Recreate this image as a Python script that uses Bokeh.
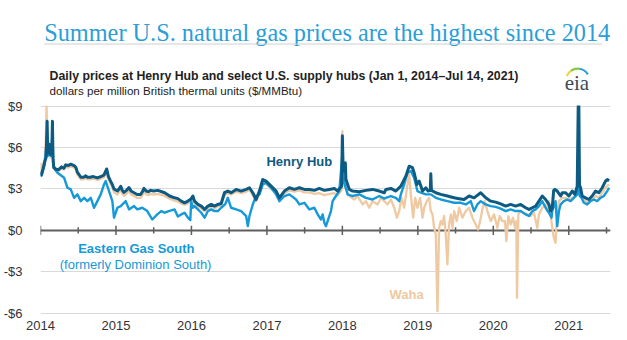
from bokeh.plotting import figure
from bokeh.layouts import column
from bokeh.models import Range1d, FixedTicker, Span, Label
from bokeh.core.properties import value
from bokeh.embed import file_html
from bokeh.resources import INLINE

# ---------------- data (decimal year, $/MMBtu) ----------------
henry_hub = [
    (2014.000, 4.30), (2014.013, 4.05), (2014.035, 4.50), (2014.057, 5.00), (2014.075, 5.30),
    (2014.088, 7.90), (2014.095, 5.60), (2014.115, 6.25), (2014.130, 5.50), (2014.150, 5.70),
    (2014.158, 7.90), (2014.166, 5.20), (2014.175, 4.55), (2014.200, 4.45), (2014.240, 4.40),
    (2014.280, 4.60), (2014.310, 4.50), (2014.335, 4.75), (2014.370, 4.70), (2014.400, 4.80),
    (2014.445, 4.70), (2014.470, 4.55), (2014.489, 4.20), (2014.510, 4.05), (2014.534, 3.85),
    (2014.570, 3.85), (2014.600, 3.95), (2014.622, 3.85), (2014.660, 3.85), (2014.700, 3.90),
    (2014.754, 3.80), (2014.798, 3.90), (2014.840, 4.00), (2014.877, 4.45), (2014.900, 3.90),
    (2014.930, 3.55), (2014.950, 3.35), (2014.974, 3.00), (2015.019, 2.85), (2015.040, 3.00),
    (2015.063, 3.20), (2015.085, 2.90), (2015.107, 2.75), (2015.140, 2.90), (2015.173, 3.10),
    (2015.200, 2.85), (2015.239, 2.73), (2015.280, 2.60), (2015.327, 2.60), (2015.350, 2.80),
    (2015.371, 3.04), (2015.400, 2.85), (2015.430, 2.80), (2015.459, 2.90), (2015.500, 2.85),
    (2015.556, 2.90), (2015.645, 2.73), (2015.711, 2.49), (2015.777, 2.36), (2015.820, 2.30),
    (2015.865, 2.12), (2015.909, 2.00), (2015.953, 2.12), (2015.997, 2.30), (2016.019, 2.49),
    (2016.041, 2.12), (2016.086, 1.88), (2016.130, 1.76), (2016.174, 1.52), (2016.218, 1.76),
    (2016.262, 1.88), (2016.306, 1.76), (2016.350, 1.88), (2016.394, 1.95), (2016.438, 2.73),
    (2016.482, 2.85), (2016.526, 2.73), (2016.593, 2.97), (2016.659, 2.85), (2016.725, 2.97),
    (2016.769, 3.09), (2016.813, 2.73), (2016.857, 2.24), (2016.901, 2.85), (2016.945, 3.69),
    (2016.989, 3.57), (2017.033, 3.33), (2017.056, 3.21), (2017.122, 2.85), (2017.166, 2.36),
    (2017.232, 2.85), (2017.298, 3.09), (2017.364, 2.97), (2017.430, 3.09), (2017.497, 2.97),
    (2017.563, 2.97), (2017.629, 2.90), (2017.695, 3.04), (2017.761, 2.90), (2017.827, 2.97),
    (2017.893, 3.04), (2017.937, 2.85), (2017.990, 3.20), (2018.000, 6.85), (2018.008, 5.00),
    (2018.018, 4.30), (2018.030, 4.50), (2018.039, 4.90), (2018.047, 3.70), (2018.092, 2.97),
    (2018.136, 2.85), (2018.224, 2.80), (2018.312, 2.90), (2018.400, 2.97), (2018.489, 2.85),
    (2018.555, 2.73), (2018.577, 2.97), (2018.643, 3.04), (2018.709, 2.85), (2018.775, 3.21),
    (2018.841, 3.93), (2018.885, 4.65), (2018.929, 4.54), (2018.951, 4.18), (2018.987, 3.33),
    (2019.018, 3.57), (2019.062, 2.85), (2019.106, 3.09), (2019.137, 2.85), (2019.165, 2.90),
    (2019.172, 4.10), (2019.180, 2.90), (2019.238, 2.73), (2019.304, 2.61), (2019.392, 2.49),
    (2019.481, 2.36), (2019.547, 2.30), (2019.613, 2.24), (2019.679, 2.49), (2019.745, 2.36),
    (2019.833, 2.73), (2019.899, 2.36), (2019.966, 2.12), (2020.032, 2.05), (2020.098, 1.92),
    (2020.164, 1.76), (2020.230, 1.88), (2020.296, 1.76), (2020.362, 1.88), (2020.429, 1.64),
    (2020.473, 1.52), (2020.517, 1.64), (2020.561, 1.76), (2020.605, 2.12), (2020.649, 2.49),
    (2020.693, 2.24), (2020.737, 1.88), (2020.759, 1.40), (2020.781, 1.64), (2020.800, 2.90),
    (2020.817, 2.97), (2020.847, 2.85), (2020.892, 2.49), (2020.914, 2.73), (2020.958, 2.73),
    (2021.002, 2.49), (2021.046, 2.85), (2021.081, 2.61), (2021.112, 3.21), (2021.125, 9.00),
    (2021.134, 9.00), (2021.142, 3.30), (2021.156, 3.09), (2021.178, 2.49), (2021.222, 2.36),
    (2021.266, 2.24), (2021.310, 2.49), (2021.354, 2.85), (2021.399, 2.73), (2021.443, 3.09),
    (2021.487, 3.57), (2021.510, 3.69), (2021.535, 3.60),
]

eastern_gas_south = [
    (2014.000, 4.20), (2014.013, 3.95), (2014.057, 4.80), (2014.088, 7.00), (2014.100, 5.40),
    (2014.115, 5.90), (2014.140, 5.40), (2014.158, 7.00), (2014.170, 4.80), (2014.200, 4.35),
    (2014.225, 4.18), (2014.313, 3.81), (2014.357, 3.09), (2014.401, 2.97), (2014.445, 2.36),
    (2014.489, 2.61), (2014.534, 2.12), (2014.578, 2.36), (2014.622, 2.12), (2014.666, 2.36),
    (2014.710, 1.64), (2014.754, 2.12), (2014.798, 2.61), (2014.842, 3.33), (2014.864, 3.57),
    (2014.908, 2.85), (2014.952, 2.12), (2014.974, 0.92), (2015.019, 1.64), (2015.063, 1.76),
    (2015.129, 2.12), (2015.173, 1.52), (2015.239, 1.76), (2015.283, 1.52), (2015.349, 1.64),
    (2015.415, 1.40), (2015.481, 0.79), (2015.548, 1.16), (2015.600, 1.40), (2015.645, 1.28),
    (2015.700, 1.40), (2015.777, 1.52), (2015.820, 1.00), (2015.865, 1.16), (2015.909, 1.28),
    (2015.953, 0.92), (2015.985, 0.75), (2015.997, 2.12), (2016.019, 1.64), (2016.041, 1.76),
    (2016.086, 1.52), (2016.130, 1.28), (2016.174, 0.92), (2016.218, 1.40), (2016.262, 1.52),
    (2016.306, 1.40), (2016.350, 1.40), (2016.394, 1.64), (2016.446, 1.88), (2016.482, 2.36),
    (2016.526, 1.64), (2016.593, 1.52), (2016.659, 1.40), (2016.725, 1.04), (2016.747, 0.31),
    (2016.769, 1.04), (2016.813, 1.88), (2016.857, 2.49), (2016.901, 2.60), (2016.945, 3.33),
    (2016.989, 3.45), (2017.033, 3.21), (2017.056, 3.09), (2017.122, 2.61), (2017.166, 2.12),
    (2017.232, 2.49), (2017.298, 2.61), (2017.386, 2.24), (2017.430, 1.88), (2017.497, 2.00),
    (2017.563, 1.52), (2017.629, 1.64), (2017.673, 1.16), (2017.717, 0.79), (2017.739, 1.16),
    (2017.761, 0.55), (2017.783, 0.31), (2017.805, 0.67), (2017.849, 1.40), (2017.871, 2.12),
    (2017.915, 2.49), (2017.959, 2.85), (2018.000, 5.50), (2018.020, 3.50), (2018.057, 2.85),
    (2018.070, 2.61), (2018.136, 2.49), (2018.224, 2.61), (2018.312, 2.36), (2018.400, 2.24),
    (2018.489, 2.49), (2018.555, 2.30), (2018.577, 2.36), (2018.643, 2.49), (2018.709, 2.36),
    (2018.753, 2.12), (2018.775, 2.61), (2018.819, 3.33), (2018.863, 4.18), (2018.907, 4.30),
    (2018.951, 3.81), (2018.995, 2.85), (2019.040, 2.73), (2019.106, 2.61), (2019.172, 2.61),
    (2019.238, 2.36), (2019.304, 2.24), (2019.392, 2.12), (2019.481, 2.00), (2019.569, 2.00),
    (2019.635, 1.88), (2019.701, 2.12), (2019.745, 1.40), (2019.789, 1.88), (2019.833, 2.12),
    (2019.899, 1.88), (2019.966, 1.76), (2020.032, 1.70), (2020.098, 1.58), (2020.164, 1.40),
    (2020.230, 1.52), (2020.296, 1.40), (2020.362, 1.40), (2020.429, 1.16), (2020.473, 1.04),
    (2020.517, 1.40), (2020.561, 1.52), (2020.605, 1.76), (2020.649, 2.12), (2020.693, 1.64),
    (2020.737, 1.28), (2020.772, 0.92), (2020.781, 1.40), (2020.825, 2.12), (2020.847, 0.31),
    (2020.870, 1.40), (2020.892, 1.88), (2020.936, 2.12), (2020.980, 2.24), (2021.024, 2.12),
    (2021.068, 2.36), (2021.112, 2.61), (2021.130, 5.00), (2021.145, 2.50), (2021.169, 2.36),
    (2021.200, 2.00), (2021.244, 1.88), (2021.288, 2.12), (2021.332, 2.24), (2021.376, 2.12),
    (2021.420, 2.36), (2021.465, 2.49), (2021.509, 2.85), (2021.535, 3.09),
]

waha = [
    (2014.000, 4.90), (2014.013, 4.30), (2014.035, 4.70), (2014.057, 5.30), (2014.070, 6.50),
    (2014.080, 9.00), (2014.092, 6.00), (2014.115, 6.00), (2014.130, 5.30), (2014.150, 5.50),
    (2014.158, 7.50), (2014.166, 5.00), (2014.175, 4.50), (2014.200, 4.35), (2014.240, 4.30),
    (2014.280, 4.50), (2014.310, 4.40), (2014.335, 4.60), (2014.370, 4.55), (2014.400, 4.65),
    (2014.445, 4.55), (2014.470, 4.40), (2014.489, 4.05), (2014.510, 3.90), (2014.534, 3.70),
    (2014.570, 3.70), (2014.600, 3.80), (2014.622, 3.70), (2014.660, 3.70), (2014.700, 3.75),
    (2014.754, 3.65), (2014.798, 3.75), (2014.840, 3.85), (2014.877, 4.20), (2014.900, 3.70),
    (2014.930, 3.35), (2014.950, 3.15), (2014.974, 2.75), (2015.019, 2.60), (2015.040, 2.75),
    (2015.063, 2.95), (2015.085, 2.65), (2015.107, 2.50), (2015.140, 2.65), (2015.173, 2.85),
    (2015.200, 2.60), (2015.239, 2.50), (2015.280, 2.35), (2015.327, 2.35), (2015.350, 2.55),
    (2015.371, 2.80), (2015.400, 2.60), (2015.430, 2.55), (2015.459, 2.65), (2015.500, 2.60),
    (2015.556, 2.65), (2015.645, 2.50), (2015.711, 2.30), (2015.777, 2.15), (2015.820, 2.10),
    (2015.865, 1.95), (2015.909, 1.85), (2015.953, 1.95), (2015.997, 2.15), (2016.019, 2.30),
    (2016.041, 1.95), (2016.086, 1.75), (2016.130, 1.60), (2016.174, 1.40), (2016.218, 1.60),
    (2016.262, 1.75), (2016.306, 1.60), (2016.350, 1.75), (2016.394, 1.80), (2016.438, 2.55),
    (2016.482, 2.70), (2016.526, 2.60), (2016.593, 2.80), (2016.659, 2.70), (2016.725, 2.80),
    (2016.769, 2.95), (2016.813, 2.55), (2016.857, 2.10), (2016.901, 2.70), (2016.945, 3.45),
    (2016.989, 3.35), (2017.033, 3.15), (2017.056, 3.00), (2017.122, 2.70), (2017.166, 2.25),
    (2017.232, 2.70), (2017.298, 2.90), (2017.364, 2.80), (2017.430, 2.90), (2017.497, 2.75),
    (2017.563, 2.75), (2017.629, 2.65), (2017.695, 2.70), (2017.761, 2.55), (2017.827, 2.65),
    (2017.893, 2.70), (2017.937, 2.55), (2017.990, 2.90), (2018.000, 7.20), (2018.010, 4.70),
    (2018.020, 4.20), (2018.030, 4.40), (2018.039, 4.60), (2018.050, 3.30), (2018.070, 2.60),
    (2018.092, 2.49), (2018.158, 2.24), (2018.202, 2.49), (2018.268, 1.88), (2018.312, 2.12),
    (2018.356, 1.64), (2018.400, 2.12), (2018.467, 1.88), (2018.511, 2.36), (2018.555, 2.12),
    (2018.599, 1.88), (2018.643, 2.24), (2018.687, 1.64), (2018.722, 0.92), (2018.753, 1.40),
    (2018.784, 2.36), (2018.819, 1.64), (2018.863, 3.33), (2018.885, 4.06), (2018.907, 2.61),
    (2018.938, 0.92), (2018.965, 2.36), (2018.995, 1.64), (2019.031, 2.36), (2019.062, 0.92),
    (2019.084, 1.64), (2019.119, 2.12), (2019.150, 2.36), (2019.172, 1.40), (2019.194, 1.16),
    (2019.216, 0.19), (2019.238, -0.30), (2019.260, -5.85), (2019.282, 0.19), (2019.304, 0.67),
    (2019.326, 0.43), (2019.348, 1.04), (2019.370, -0.29), (2019.392, -2.46), (2019.414, 0.43),
    (2019.437, 1.16), (2019.459, 0.19), (2019.481, 1.40), (2019.516, 0.67), (2019.547, 1.64),
    (2019.591, 0.92), (2019.635, 1.40), (2019.679, 1.64), (2019.723, 0.92), (2019.767, 0.43),
    (2019.798, 0.06), (2019.825, 0.67), (2019.855, 1.52), (2019.886, 2.12), (2019.921, 1.40),
    (2019.966, 0.67), (2020.010, 1.16), (2020.054, 0.19), (2020.085, 1.04), (2020.120, 0.67),
    (2020.155, 0.67), (2020.173, -0.78), (2020.199, 1.04), (2020.230, 0.43), (2020.261, 0.92),
    (2020.287, 0.19), (2020.305, 0.67), (2020.314, -4.88), (2020.332, 1.16), (2020.362, 1.40),
    (2020.406, 1.28), (2020.451, 1.16), (2020.495, 1.04), (2020.539, 1.28), (2020.583, 0.19),
    (2020.605, 1.16), (2020.649, 1.64), (2020.693, 1.88), (2020.715, 1.40), (2020.737, 2.12),
    (2020.759, 1.16), (2020.781, 0.19), (2020.803, -0.54), (2020.825, -0.90), (2020.847, 1.40),
    (2020.870, 2.12), (2020.914, 2.36), (2020.958, 2.36), (2021.002, 2.24), (2021.046, 2.36),
    (2021.090, 2.49), (2021.125, 2.61), (2021.134, 6.00), (2021.145, 2.70), (2021.169, 2.49),
    (2021.222, 2.12), (2021.266, 2.00), (2021.310, 2.24), (2021.354, 2.49), (2021.399, 2.36),
    (2021.443, 2.73), (2021.487, 3.09), (2021.531, 3.33),
]

year_ticks = [2014, 2015, 2016, 2017, 2018, 2019, 2020, 2021]
half_year_ticks = [2014.5, 2015.5, 2016.5, 2017.5, 2018.5, 2019.5, 2020.5, 2021.5]
y_ticks = [-6, -3, 0, 3, 6, 9]
y_tick_labels = ["-$6", "-$3", "$0", "$3", "$6", "$9"]

title_text = "Summer U.S. natural gas prices are the highest since 2014"
subtitle_text = "Daily prices at Henry Hub and select U.S. supply hubs (Jan 1, 2014\u2013Jul 14, 2021)"
units_text = "dollars per million British thermal units ($/MMBtu)"

HH_COLOR = "#0d5a82"
EGS_COLOR = "#1599d8"
WAHA_COLOR = "#efc9a1"
SANS = "Liberation Sans"

# ---------------- header ----------------
HEAD_H = 97
head = figure(width=627, height=HEAD_H, x_range=Range1d(0, 627), y_range=Range1d(HEAD_H, 0),
              x_axis_type=None, y_axis_type=None, toolbar_location=None,
              output_backend="svg", min_border=0)
head.grid.visible = False
head.outline_line_color = None
head.text(x=[4], y=[32], text=[title_text], text_font=value("Liberation Serif"),
          text_font_size="24.3px", text_color="#2a9ed8", text_baseline="alphabetic")
head.segment(x0=[4], y0=[43.5], x1=[618], y1=[43.5], line_color="#cfcfcf", line_width=1.2)
head.text(x=[10], y=[75], text=[subtitle_text], text_font=value(SANS), text_font_style="bold",
          text_font_size="12.3px", text_color="#222222", text_baseline="alphabetic")
head.text(x=[10], y=[89.5], text=[units_text], text_font=value(SANS),
          text_font_size="11.6px", text_color="#222222", text_baseline="alphabetic")
# eia logo
head.arc(x=[591, 591, 591], y=[80, 80, 80], radius=[13, 13, 13],
         start_angle=[2.2, 1.45, 0.55], end_angle=[2.75, 2.2, 1.45],
         direction="anticlock", line_color=["#f3d23a", "#8cc63e", "#2a9ed8"], line_width=2.2)
head.text(x=[590], y=[82], text=["eia"], text_font=value("Liberation Serif"),
          text_font_size="21px", text_color="#3d4b57", text_align="center",
          text_baseline="alphabetic")

# ---------------- chart ----------------
p = figure(width=627, height=340 - HEAD_H, x_range=Range1d(2014.0, 2021.553),
           y_range=Range1d(-6.095, 9.05), toolbar_location=None, output_backend="svg",
           min_border_left=39, min_border_right=17, min_border_top=8, min_border_bottom=26)
p.outline_line_color = None
p.xgrid.visible = False
p.ygrid.grid_line_color = "#d9d9d9"
p.ygrid.grid_line_width = 1.2

p.yaxis.ticker = FixedTicker(ticks=y_ticks)
p.yaxis.major_label_overrides = {t: lab for t, lab in zip(y_ticks, y_tick_labels)}
p.yaxis.axis_line_color = None
p.yaxis.major_tick_line_color = None
p.yaxis.minor_tick_line_color = None
p.yaxis.major_label_standoff = 12
p.yaxis.major_label_text_font = SANS
p.yaxis.major_label_text_font_size = "13px"
p.yaxis.major_label_text_color = "#333333"

p.xaxis.ticker = FixedTicker(ticks=year_ticks)
p.xaxis.major_label_overrides = {t: str(t) for t in year_ticks}
p.xaxis.axis_line_color = None
p.xaxis.major_tick_line_color = None
p.xaxis.minor_tick_line_color = None
p.xaxis.major_tick_in = 0
p.xaxis.major_tick_out = 0
p.xaxis.major_label_standoff = 6
p.xaxis.major_label_text_font = SANS
p.xaxis.major_label_text_font_size = "13px"
p.xaxis.major_label_text_color = "#333333"

# zero axis line with ticks crossing it
p.add_layout(Span(location=0, dimension="width", line_color="#5e5e5e", line_width=2, level="underlay"))
p.segment(x0=year_ticks, y0=[-0.33] * len(year_ticks), x1=year_ticks, y1=[0.33] * len(year_ticks),
          line_color="#5e5e5e", line_width=1.5)
p.segment(x0=half_year_ticks, y0=[-0.22] * len(half_year_ticks), x1=half_year_ticks,
          y1=[0.22] * len(half_year_ticks), line_color="#5e5e5e", line_width=1.5)

wx, wy = zip(*waha)
ex, ey = zip(*eastern_gas_south)
hx, hy = zip(*henry_hub)
p.line(list(wx), list(wy), line_color=WAHA_COLOR, line_width=2.3, line_join="round")
p.line(list(ex), list(ey), line_color=EGS_COLOR, line_width=2.4, line_join="round")
p.line(list(hx), list(hy), line_color=HH_COLOR, line_width=3.0, line_join="round")

p.add_layout(Label(x=2017.43, y=5.02, text="Henry Hub", text_font=SANS, text_font_style="bold",
                   text_font_size="13px", text_color=HH_COLOR, text_align="center",
                   text_baseline="middle"))
p.add_layout(Label(x=2015.27, y=-1.28, text="Eastern Gas South", text_font=SANS,
                   text_font_style="bold", text_font_size="13px", text_color=EGS_COLOR,
                   text_align="center", text_baseline="middle"))
p.add_layout(Label(x=2015.26, y=-2.44, text="(formerly Dominion South)", text_font=SANS,
                   text_font_size="13px", text_color=EGS_COLOR, text_align="center",
                   text_baseline="middle"))
p.add_layout(Label(x=2018.85, y=-4.62, text="Waha", text_font=SANS, text_font_style="bold",
                   text_font_size="13px", text_color=WAHA_COLOR, text_align="center",
                   text_baseline="middle"))

layout = column(head, p, spacing=0)
open("out.html", "w").write(file_html(layout, INLINE))
